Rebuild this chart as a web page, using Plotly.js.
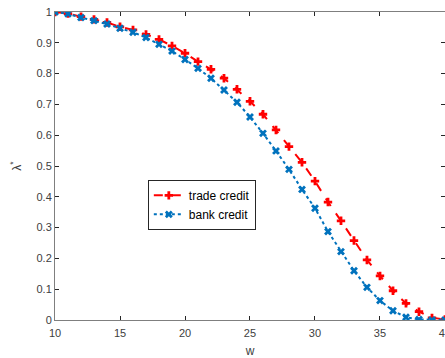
<!DOCTYPE html>
<html>
<head>
<meta charset="utf-8">
<script src="https://cdn.plot.ly/plotly-3.0.1.min.js"></script>
<style>html,body{margin:0;padding:0;background:#fff;}#chart{width:445px;height:358px;}</style>
</head>
<body>
<div id="chart"></div>
<script>
const w = [10,11,12,13,14,15,16,17,18,19,20,21,22,23,24,25,26,27,28,29,30,31,32,33,34,35,36,37,38,39,40];
const tradeCredit = [1.0,0.995,0.985,0.976,0.966,0.952,0.942,0.927,0.911,0.890,0.866,0.839,0.814,0.785,0.749,0.710,0.668,0.617,0.563,0.512,0.451,0.383,0.322,0.258,0.195,0.143,0.095,0.054,0.027,0.007,0.002];
const bankCredit = [1.0,0.994,0.982,0.972,0.961,0.947,0.934,0.917,0.895,0.873,0.846,0.817,0.785,0.747,0.707,0.659,0.606,0.549,0.489,0.424,0.363,0.287,0.222,0.160,0.106,0.063,0.030,0.009,0.002,0.0,0.0];
const seriesNames = ["trade credit","bank credit"];
const xTicks = [10,15,20,25,30,35,40];
const yTicks = [0,0.1,0.2,0.3,0.4,0.5,0.6,0.7,0.8,0.9,1];
const yTickText = ["0","0.1","0.2","0.3","0.4","0.5","0.6","0.7","0.8","0.9","1"];

const traces = [
  {x: w, y: tradeCredit, name: seriesNames[0], type: 'scatter', mode: 'lines+markers',
   line: {color: '#FF0000', width: 2, dash: 'dash'},
   marker: {symbol: 'cross', size: 7, color: '#FF0000'}},
  {x: w, y: bankCredit, name: seriesNames[1], type: 'scatter', mode: 'lines+markers',
   line: {color: '#0072BD', width: 2, dash: 'dot'},
   marker: {symbol: 'x', size: 7, color: '#0072BD'}}
];
const axisCommon = {
  showgrid: false, zeroline: false, showline: true, linecolor: '#7f7f7f', linewidth: 1,
  mirror: 'ticks', ticks: 'inside', ticklen: 4, tickcolor: '#262626', tickwidth: 1,
  ticklabeloverflow: 'allow',
  tickfont: {family: 'Liberation Sans, Arial, sans-serif', size: 11, color: '#404040'}
};
const layout = {
  width: 445, height: 358,
  margin: {l: 55, r: 0, t: 12, b: 38},
  paper_bgcolor: '#fff', plot_bgcolor: '#fff',
  showlegend: true,
  legend: {x: 0.238, y: 0.455, xanchor: 'left', yanchor: 'top',
    bgcolor: '#fff', bordercolor: '#262626', borderwidth: 1,
    font: {family: 'Liberation Sans, Arial, sans-serif', size: 12, color: '#000'},
    tracegroupgap: 0},
  xaxis: Object.assign({}, axisCommon, {range: [10, 40.001], tickvals: xTicks, ticklabelstandoff: 3,
    title: {text: 'w', standoff: 9, font: {family: 'Liberation Sans, Arial, sans-serif', size: 12, color: '#404040'}}}),
  yaxis: Object.assign({}, axisCommon, {range: [0, 1], tickvals: yTicks, ticktext: yTickText,
    title: {text: 'λ<sup>*</sup>', standoff: 12, font: {family: 'Liberation Sans, Arial, sans-serif', size: 12, color: '#404040'}}})
};
Plotly.newPlot('chart', traces, layout, {displayModeBar: false, staticPlot: true});
</script>
</body>
</html>
